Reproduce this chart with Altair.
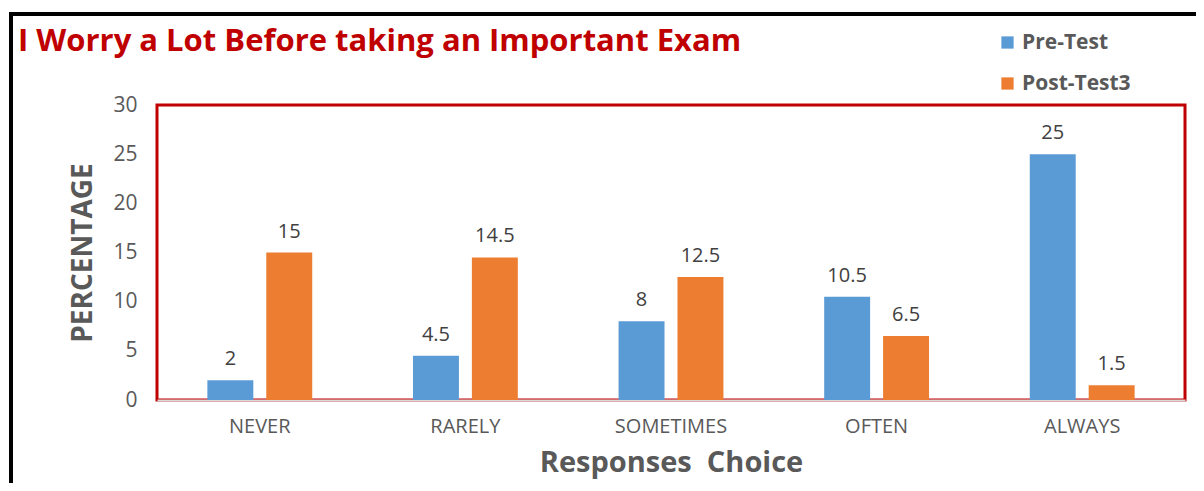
import altair as alt
import pandas as pd

categories = ["NEVER", "RARELY", "SOMETIMES", "OFTEN", "ALWAYS"]
series_names = ["Pre-Test", "Post-Test3"]
pre_test = [2, 4.5, 8, 10.5, 25]
post_test3 = [15, 14.5, 12.5, 6.5, 1.5]
y_ticks = [0, 5, 10, 15, 20, 25, 30]

rows = []
for c, a, b in zip(categories, pre_test, post_test3):
    rows.append({"Choice": c, "Series": series_names[0], "Value": a, "Label": f"{a:g}"})
    rows.append({"Choice": c, "Series": series_names[1], "Value": b, "Label": f"{b:g}"})
df = pd.DataFrame(rows)

FONT = "Open Sans"
GRAY = "#595959"

x_enc = alt.X("Choice:N", sort=categories,
              scale=alt.Scale(paddingInner=0.49, paddingOuter=0.245),
              axis=alt.Axis(title="Responses\u00a0 Choice", labelAngle=0, ticks=False,
                            domain=True, domainColor="#D9D9D9", domainWidth=2,
                            labelFontSize=20, labelColor=GRAY, labelFont=FONT,
                            labelPadding=16, titleFontSize=29, titleFont=FONT,
                            titleFontWeight="bold", titleColor=GRAY, titlePadding=12))
xo_enc = alt.XOffset("Series:N", sort=series_names,
                     scale=alt.Scale(paddingInner=0.22, paddingOuter=0))

base = alt.Chart(df)

bars = base.mark_bar().encode(
    x=x_enc,
    xOffset=xo_enc,
    y=alt.Y("Value:Q", scale=alt.Scale(domain=[0, 30], nice=False),
            axis=alt.Axis(title="PERCENTAGE", values=y_ticks, ticks=False, domain=False,
                          grid=False, labelFontSize=21, labelColor=GRAY, labelFont=FONT,
                          labelPadding=20, titleFontSize=28, titleFont=FONT,
                          titleFontWeight="bold", titleColor=GRAY, titlePadding=15)),
    color=alt.Color("Series:N", sort=series_names,
                    scale=alt.Scale(domain=series_names, range=["#5B9BD5", "#ED7D31"]),
                    legend=alt.Legend(title=None, orient="none", legendX=840, legendY=-73,
                                      symbolType="square", symbolSize=150,
                                      labelFontSize=21, labelFont=FONT, labelFontWeight="bold",
                                      labelColor=GRAY, labelOffset=4, rowPadding=19,
                                      symbolStrokeWidth=0)),
)

labels = base.mark_text(baseline="bottom", dy=-11, fontSize=20, font=FONT, color="#404040").encode(
    x=alt.X("Choice:N", sort=categories),
    xOffset=alt.XOffset("Series:N", sort=series_names),
    y="Value:Q",
    text="Label:N",
)

one = alt.Data(values=[{"k": 1}])
left_border = alt.Chart(one).mark_rule(color="black", strokeWidth=4).encode(
    x=alt.value(-146), y=alt.value(-93), y2=alt.value(420))
top_border = alt.Chart(one).mark_rule(color="black", strokeWidth=4).encode(
    x=alt.value(-148), x2=alt.value(1100), y=alt.value(-91))

chart = alt.layer(bars, labels, left_border, top_border).properties(
    width=1028, height=295,
    title=alt.TitleParams("I Worry a Lot Before taking an Important Exam", anchor="start",
                          frame="group", dx=-139, dy=68, fontSize=31, font=FONT, fontWeight="bold",
                          color="#C00000", offset=20),
    autosize=alt.AutoSizeParams(type="none"),
    padding={"left": 149, "top": 97, "right": 11, "bottom": 83},
).configure_view(stroke="#C00000", strokeWidth=3, fill="white")

chart.save("out.html", embed_options={"renderer": "svg", "actions": False})
